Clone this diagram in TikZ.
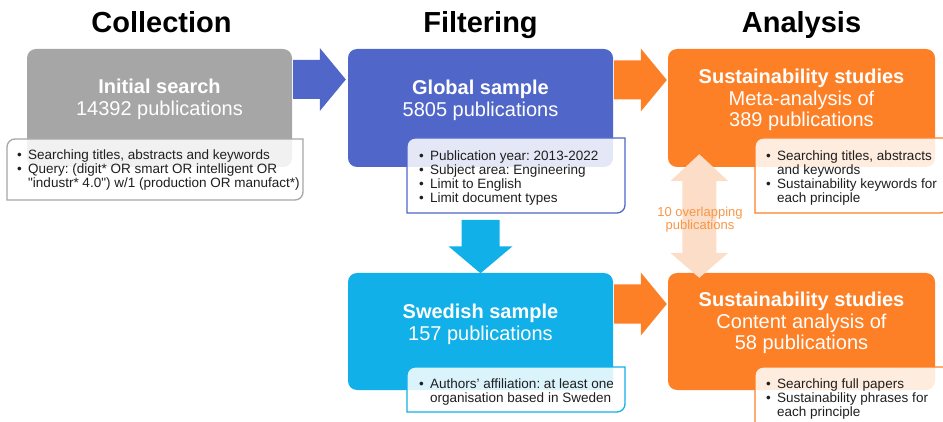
\documentclass[tikz,border=0pt]{standalone}
\usepackage{fontspec}
\setmainfont{Liberation Sans}[Ligatures=TeXOff]
\usetikzlibrary{calc}
\definecolor{cgray}{RGB}{166,166,166}
\definecolor{cblue}{RGB}{80,102,200}
\definecolor{ccyan}{RGB}{17,176,232}
\definecolor{corange}{RGB}{253,128,38}
\definecolor{cpeach}{RGB}{252,221,199}
\definecolor{ctxtorange}{RGB}{248,150,70}
\newcommand\hBlockArrow[3]{% start, tip, colour
  \fill[#3] ($(#1)+(0,19.5)$) -- ($(#2)+(-26,19.5)$) -- ($(#2)+(-26,31.5)$) -- (#2)
    -- ($(#2)+(-26,-31.5)$) -- ($(#2)+(-26,-19.5)$) -- ($(#1)+(0,-19.5)$) -- cycle;}
\newcommand\calloutShape[5]{% x1,y1,x2,y2,colour
  \filldraw[draw=#5, fill=white, fill opacity=0.85, line width=1.3pt]
    (#1,-#4) -- (#1,{-(#2+8)}) arc(180:90:8pt) -- (#3,-#2) -- (#3,{-(#4-8)}) arc(0:-90:8pt) -- cycle;}
\newcommand\bul{\makebox[11pt][l]{\textbullet}}
\begin{document}
\frenchspacing
\begin{tikzpicture}[x=1pt,y=1pt,
  box/.style={rectangle, rounded corners=9pt, minimum width=265pt, minimum height=118pt, inner sep=0pt},
  btext/.style={anchor=base, inner sep=0pt, text=white, font=\fontsize{20}{21.5}\selectfont},
  ctext/.style={anchor=base west, inner sep=0pt, text=black!88, font=\fontsize{13.5}{14}\selectfont},
  title/.style={anchor=base, inner sep=0pt, font=\fontsize{29}{30}\selectfont\bfseries}]
\useasboundingbox (0,0) rectangle (943,-422);
\clip (0,0) rectangle (943,-422);
% titles
\node[title] (h1) at (161.5,-33) {Collection};
\node[title] (h2) at (480.5,-33) {Filtering};
\node[title] (h3) at (801.5,-33) {Analysis};
% boxes
\node[box, fill=cgray] (coll) at (159.5,-108) {};
\node[box, fill=cblue] (glob) at (480.5,-108) {};
\node[box, fill=ccyan, minimum height=117pt] (swed) at (480.5,-331.5) {};
\node[box, fill=corange, minimum width=267pt] (anaT) at (801.5,-108) {};
\node[box, fill=corange, minimum width=267pt, minimum height=117pt] (anaB) at (801.5,-331.5) {};
% block arrows
\coordinate (a1s) at ($(coll.east)+(1,28.5)$);
\coordinate (a1t) at ($(glob.west)+(-2,28.5)$);
\hBlockArrow{a1s}{a1t}{cblue}
\coordinate (a2s) at ($(glob.east)+(1,28)$);
\coordinate (a2t) at ($(anaT.west)+(-1,28)$);
\hBlockArrow{a2s}{a2t}{corange}
\coordinate (a3s) at ($(swed.east)+(1,27.5)$);
\coordinate (a3t) at ($(anaB.west)+(-1,27.5)$);
\hBlockArrow{a3s}{a3t}{corange}
% down arrow
\coordinate (d1s) at (glob.south |- 0,-220);
\coordinate (d1t) at ($(swed.north)+(0,-0.5)$);
\fill[ccyan] ($(d1s)+(-19,0)$) -- ($(d1t)+(-19,27)$) -- ($(d1t)+(-32,27)$) -- (d1t)
  -- ($(d1t)+(32,27)$) -- ($(d1t)+(19,27)$) -- ($(d1s)+(19,0)$) -- cycle;
% callouts
\calloutShape{7}{139}{303}{200}{cgray}
\calloutShape{407}{138}{625}{213}{cblue}
\calloutShape{407}{367}{625}{412}{ccyan}
\calloutShape{755}{138}{948}{213}{corange}
\calloutShape{755}{367}{948}{440}{corange}
% double arrow
\coordinate (dt) at ($(anaT.south west)+(31.5,13)$);
\coordinate (db) at ($(anaB.north west)+(31.5,-5)$);
\fill[cpeach] (dt) -- ($(dt)+(29,-27)$) -- ($(dt)+(17,-27)$) -- ($(db)+(17,25)$) -- ($(db)+(29,25)$) -- (db)
  -- ($(db)+(-29,25)$) -- ($(db)+(-17,25)$) -- ($(dt)+(-17,-27)$) -- ($(dt)+(-29,-27)$) -- cycle;
\node[anchor=base, inner sep=0pt, text=ctxtorange, font=\fontsize{13}{13.5}\selectfont] (ov) at (700,-216.5)
  {\begin{tabular}[t]{@{}c@{}}10 overlapping\\publications\end{tabular}};
% box texts
\node[btext] (coll-t) at (159.5,-94) {\begin{tabular}[t]{@{}c@{}}\textbf{Initial search}\\14392 publications\end{tabular}};
\node[btext] (glob-t) at (480.5,-95) {\begin{tabular}[t]{@{}c@{}}\textbf{Global sample}\\5805 publications\end{tabular}};
\node[btext] (swed-t) at (480.5,-319) {\begin{tabular}[t]{@{}c@{}}\textbf{Swedish sample}\\157 publications\end{tabular}};
\node[btext] (anaT-t) at (801.5,-84) {\begin{tabular}[t]{@{}c@{}}\textbf{Sustainability studies}\\Meta-analysis of\\389 publications\end{tabular}};
\node[btext] (anaB-t) at (801.5,-307) {\begin{tabular}[t]{@{}c@{}}\textbf{Sustainability studies}\\Content analysis of\\58 publications\end{tabular}};
% callout texts
\node[ctext] (coll-c) at (17,-160) {\begin{tabular}[t]{@{}l@{}l@{}}
  \bul & Searching titles, abstracts and keywords\\
  \bul & Query: (digit* OR smart OR intelligent OR\\
       & "industr* 4.0") w/1 (production OR manufact*)\end{tabular}};
\node[ctext] (glob-c) at (419,-160.5) {\begin{tabular}[t]{@{}l@{}l@{}}
  \bul & Publication year: 2013-2022\\
  \bul & Subject area: Engineering\\
  \bul & Limit to English\\
  \bul & Limit document types\end{tabular}};
\node[ctext] (swed-c) at (419,-388.5) {\begin{tabular}[t]{@{}l@{}l@{}}
  \bul & Authors’ affiliation: at least one\\
       & organisation based in Sweden\end{tabular}};
\node[ctext] (anaT-c) at (766,-160.5) {\begin{tabular}[t]{@{}l@{}l@{}}
  \bul & Searching titles, abstracts\\
       & and keywords\\
  \bul & Sustainability keywords for\\
       & each principle\end{tabular}};
\node[ctext] (anaB-c) at (766,-388.5) {\begin{tabular}[t]{@{}l@{}l@{}}
  \bul & Searching full papers\\
  \bul & Sustainability phrases for\\
       & each principle\end{tabular}};
\end{tikzpicture}
\end{document}
